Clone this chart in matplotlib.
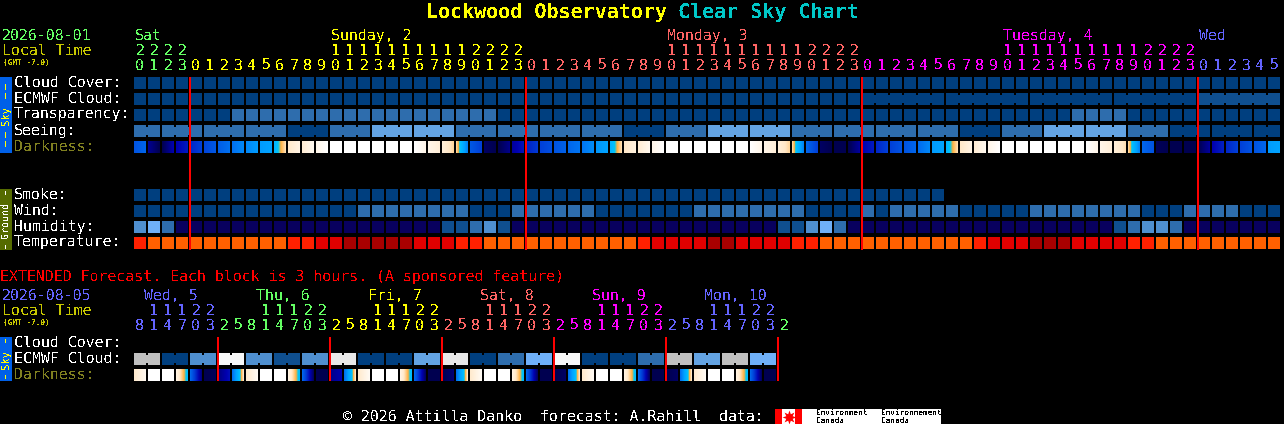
import matplotlib
matplotlib.use("Agg")
import matplotlib.pyplot as plt
import numpy as np
from matplotlib.colors import LinearSegmentedColormap

plt.rcParams['font.family'] = ['DejaVu Sans Mono']
plt.rcParams['text.antialiased'] = False
plt.rcParams['text.hinting'] = 'no_hinting'

# ---------- data ----------
hours_main = [20, 21, 22, 23,
              0, 1, 2, 3, 4, 5, 6, 7, 8, 9, 10, 11, 12, 13, 14, 15, 16, 17, 18, 19, 20, 21, 22, 23,
              0, 1, 2, 3, 4, 5, 6, 7, 8, 9, 10, 11, 12, 13, 14, 15, 16, 17, 18, 19, 20, 21, 22, 23,
              0, 1, 2, 3, 4, 5, 6, 7, 8, 9, 10, 11, 12, 13, 14, 15, 16, 17, 18, 19, 20, 21, 22, 23,
              0, 1, 2, 3, 4, 5]
day_names_main = ['Sat', 'Sunday, 2', 'Monday, 3', 'Tuesday, 4', 'Wed']
day_label_cols = [0, 14, 38, 62, 76]
day_start_cols = [0, 4, 28, 52, 76]
day_colors_main = ['#64ff64', '#ffff00', '#ff6464', '#ff00ff', '#6464ff']

cloud_cover = [0, 0, 0, 0, 0, 0, 0, 0, 0, 0, 0, 0, 0, 0, 0, 0, 0, 0, 0, 0, 0, 0, 0, 0, 0, 0, 0, 0,
               0, 0, 0, 0, 0, 0, 0, 0, 0, 0, 0, 0, 0, 0, 0, 0, 0, 0, 0, 0, 0, 0, 0, 0, 0, 0, 0, 0,
               0, 0, 0, 0, 0, 0, 0, 0, 0, 0, 0, 0, 0, 0, 0, 0, 0, 0, 0, 0, 0, 0, 0, 0, 0, 0]
ecmwf_cloud = [0, 0, 0, 0, 0, 0, 0, 0, 0, 0, 0, 0, 0, 0, 0, 0, 0, 0, 0, 0, 0, 0, 0, 0, 0, 0, 0, 0,
               0, 0, 0, 0, 0, 0, 0, 0, 0, 0, 0, 0, 0, 0, 0, 0, 0, 0, 0, 0, 0, 0, 0, 0, 0, 0, 0, 0,
               0, 0, 0, 0, 0, 0, 0, 0, 0, 0, 0, 0, 0, 0, 0, 0, 0, 0, 0, 0, 1, 1, 1, 1, 1, 1]
transparency = [0, 0, 0, 0, 0, 0, 0, 2, 2, 2, 2, 2, 2, 2, 2, 2, 2, 2, 2, 2, 2, 2, 2, 2, 2, 2, 0, 0,
                0, 0, 0, 0, 0, 0, 0, 0, 0, 0, 0, 0, 0, 0, 0, 0, 0, 0, 0, 0, 0, 0, 0, 0, 0, 0, 0, 0,
                0, 0, 0, 0, 0, 0, 0, 0, 0, 0, 0, 2, 2, 2, 2, 0, 0, 0, 0, 0, 0, 0, 0, 0, 0, 0]
seeing = [2, 2, 2, 2, 2, 2, 2, 2, 2, 2, 2, 0, 0, 0, 2, 2, 2, 4, 4, 4, 4, 4, 4, 2, 2, 2, 2, 2,
          2, 2, 2, 2, 2, 2, 2, 0, 0, 0, 2, 2, 2, 4, 4, 4, 4, 4, 4, 2, 2, 2, 2, 2, 2, 2, 2, 2,
          2, 2, 2, 0, 0, 0, 2, 2, 2, 4, 4, 4, 4, 4, 4, 2, 2, 2, 0, 0, 0, 0, 0, 0, 0, 0]
darkness_left = [4.6, 6.3, 7.0, 6.0, 5.4, 4.9, 4.4, 4.0, 3.5, 3.1, 2.3, 0.95, 0.8, 0.4, 0, 0, 0, 0, 0, 0, 0, 0.4, 0.7, 1.2,
                 4.5, 6.8, 7.0, 6.2, 5.5, 5.0, 4.6, 4.2, 3.9, 3.2, 2.4, 1.0, 0.8, 0.4, 0, 0, 0, 0, 0, 0, 0, 0.4, 0.7, 1.2,
                 4.2, 6.8, 7.0, 7.0, 6.0, 5.4, 5.0, 4.6, 4.1, 3.1, 2.3, 1.0, 0.8, 0.4, 0, 0, 0, 0, 0, 0, 0, 0.4, 0.7, 1.2,
                 4.2, 6.9, 7.0, 7.0, 7.0, 6.0, 5.4, 5.0, 4.6, 3.1]
darkness_right = [4.2, 7.0, 6.0, 5.6, 5.0, 4.5, 4.0, 3.5, 3.1, 2.9, 1.1, 0.5, 0.3, 0, 0, 0, 0, 0, 0, 0, 0.4, 0.7, 1.2, 3.6,
                  5.0, 7.0, 6.4, 5.7, 5.1, 4.7, 4.3, 3.9, 3.4, 2.9, 1.1, 0.6, 0.3, 0, 0, 0, 0, 0, 0, 0, 0.4, 0.7, 1.2, 3.6,
                  5.0, 7.0, 7.0, 6.2, 5.6, 5.0, 4.6, 4.2, 3.5, 2.9, 1.1, 0.5, 0.3, 0, 0, 0, 0, 0, 0, 0, 0.4, 0.7, 1.1, 3.6,
                  4.6, 7.0, 7.0, 7.0, 6.2, 5.5, 5.0, 4.6, 4.2, 2.9]
smoke = [0, 0, 0, 0, 0, 0, 0, 0, 0, 0, 0, 0, 0, 0, 0, 0, 0, 0, 0, 0, 0, 0, 0, 0, 0, 0, 0, 0, 0,
         0, 0, 0, 0, 0, 0, 0, 0, 0, 0, 0, 0, 0, 0, 0, 0, 0, 0, 0, 0, 0, 0, 0, 0, 0, 0, 0, 0, 0]
wind = [0, 0, 0, 0, 0, 0, 0, 0, 0, 0, 0, 0, 0, 0, 0, 0, 2, 2, 2, 2, 2, 2, 2, 2, 0, 0, 0, 2,
        2, 2, 2, 2, 2, 0, 0, 0, 0, 0, 0, 0, 2, 2, 2, 2, 2, 2, 2, 2, 0, 0, 0, 0, 2, 0, 2, 2,
        2, 2, 2, 0, 0, 0, 0, 0, 2, 2, 2, 2, 2, 2, 2, 2, 0, 0, 0, 2, 2, 2, 2, 0, 0, 0]
humidity = [3, 5, 2, 9, 9, 9, 9, 9, 9, 9, 9, 9, 9, 9, 9, 9, 9, 9, 9, 9, 9, 9, 1, 1, 2, 3, 1, 9,
            9, 9, 9, 9, 9, 9, 9, 9, 9, 9, 9, 9, 9, 9, 9, 9, 9, 9, 1, 1, 3, 5, 2, 9, 9, 9, 9, 9,
            9, 9, 9, 9, 9, 9, 9, 9, 9, 9, 9, 9, 9, 9, 1, 2, 3, 3, 2, 9, 9, 9, 9, 9, 9, 9]
temperature = [1, 0, 0, 0, 0, 0, 0, 0, 0, 0, 0, 1, 1, 2, 2, 3, 3, 3, 3, 3, 2, 2, 2, 1, 1, 0, 0, 0,
               0, 0, 0, 0, 0, 0, 0, 0, 1, 2, 2, 2, 2, 3, 3, 2, 2, 2, 2, 1, 1, 0, 0, 0, 0, 0, 0, 0,
               0, 0, 0, 0, 1, 2, 2, 2, 3, 3, 3, 2, 2, 2, 2, 1, 1, 0, 0, 0, 0, 0, 0, 0, 0, 0]

hours_ext = [8, 11, 14, 17, 20, 23,
             2, 5, 8, 11, 14, 17, 20, 23,
             2, 5, 8, 11, 14, 17, 20, 23,
             2, 5, 8, 11, 14, 17, 20, 23,
             2, 5, 8, 11, 14, 17, 20, 23,
             2, 5, 8, 11, 14, 17, 20, 23,
             2]
day_names_ext = ['Wed, 5', 'Thu, 6', 'Fri, 7', 'Sat, 8', 'Sun, 9', 'Mon, 10']
ext_start_cols = [0, 6, 14, 22, 30, 38, 46]
ext_colors = ['#6464ff', '#64ff64', '#ffff00', '#ff6464', '#ff00ff', '#6464ff', '#64ff64']
ecmwf_ext = [6, 6, 0, 0, 3, 3, 8, 8, 3, 3, 1, 1, 3, 3, 7, 7, 0, 0, 0, 0, 4, 4, 7,
             7, 0, 0, 2, 2, 5, 5, 8, 8, 0, 0, 0, 0, 2, 2, 6, 6, 4, 4, 6, 6, 5, 5]
darkness_ext_left = [0.9, 0, 0, 0.5, 4.2, 7.0, 6.5, 4.0,
                     0.9, 0, 0, 0.5, 4.2, 7.0, 6.4, 4.0,
                     0.9, 0, 0, 0.5, 4.2, 7.0, 7.0, 4.0,
                     0.9, 0, 0, 0.5, 4.2, 7.0, 7.0, 4.0,
                     0.9, 0, 0, 0.5, 4.2, 7.0, 7.0, 4.0,
                     0.9, 0, 0, 0.5, 4.2, 7.0]
darkness_ext_right = [0.3, 0, 0, 2.1, 6.5, 6.9, 5.8, 1.0,
                      0.2, 0, 0, 2.1, 6.8, 7.0, 6.0, 1.0,
                      0.2, 0, 0, 2.1, 6.8, 7.0, 6.6, 1.0,
                      0.2, 0, 0, 2.1, 6.8, 7.0, 6.8, 1.0,
                      0.2, 0, 0, 2.1, 6.8, 7.0, 6.8, 1.0,
                      0.2, 0, 0, 2.1, 6.8, 7.0]

# ---------- styles ----------
blue_levels = ['#003F7F', '#0F4F8F', '#2E6DAD', '#4F8FCF', '#63A3E3', '#6FB0F8',
               '#C0C0C0', '#E8E8E8', '#F8F8F8', '#08005E']
temp_levels = ['#FF6000', '#FF2000', '#E00000', '#A80000']
dark_cmap = LinearSegmentedColormap.from_list('darkness', [
    (0 / 7, '#FFFFFF'), (1.0 / 7, '#FFE8C8'), (1.6 / 7, '#FFB040'), (1.9 / 7, '#00C8F0'),
    (2.0 / 7, '#00C0FF'), (3.0 / 7, '#00A0FF'), (4.0 / 7, '#0070F0'), (5.0 / 7, '#0040D8'),
    (6.0 / 7, '#0000B0'), (7.0 / 7, '#000050')], N=512)

X0, STEP, SIZE = 134, 14, 12
MONO = 'DejaVu Sans Mono'
FS = 10.74

fig = plt.figure(figsize=(12.84, 4.24), dpi=100, facecolor='black')
ax = fig.add_axes([0, 0, 1, 1])
ax.set_facecolor('black')
ax.axis('off')


def col_x(i):
    return X0 + STEP * i


def blocks(values, top, palette, link=None):
    xs = [col_x(i) for i in range(len(values))]
    ax.bar(xs, [SIZE] * len(xs), width=SIZE, bottom=top, align='edge',
           color=[palette[v] for v in values], linewidth=0, antialiased=False, zorder=2)
    if link:
        for i in range(len(values) - 1):
            if link(i):
                ax.bar(col_x(i) + SIZE, 8, width=STEP - SIZE, bottom=top + 2, align='edge',
                       color=palette[values[i]], linewidth=0, antialiased=False, zorder=2)


def darkness(left, right, top):
    for i, (a, b) in enumerate(zip(left, right)):
        ramp = np.linspace(a, b, SIZE)[None, :]
        ax.imshow(ramp, cmap=dark_cmap, vmin=0, vmax=7, aspect='auto', interpolation='nearest',
                  extent=(col_x(i), col_x(i) + SIZE, top + SIZE, top), zorder=2)


def label(x, y, s, color='white', fs=FS, **kw):
    ax.text(x, y + 0.8, s, color=color, fontsize=fs, family=MONO, ha=kw.pop('ha', 'left'),
            va=kw.pop('va', 'center'), **kw)


# ---------- title ----------
ax.text(426, 12, 'Lockwood Observatory', color='#FFFF00', fontsize=14.4, family=MONO,
        weight='bold', ha='left', va='center')
ax.text(678, 12, 'Clear Sky Chart', color='#00C8C8', fontsize=14.4, family=MONO,
        weight='bold', ha='left', va='center')

# ---------- main header ----------
label(2, 35, '2026-08-01', '#64ff64')
label(2, 50, 'Local Time', '#C8C800')
label(3, 62, '(GMT -7.0)', '#C8C800', fs=5.6, weight='bold')
for name, c, col in zip(day_names_main, day_colors_main, day_label_cols):
    label(col_x(col) + 1, 35, name, c)
for i, h in enumerate(hours_main):
    d = np.searchsorted(day_start_cols, i, side='right') - 1
    c = day_colors_main[d]
    cx = col_x(i) + SIZE / 2
    label(cx, 65, str(h % 10), c, ha='center')
    if h >= 10:
        label(cx, 50, str(h // 10), c, ha='center')

# ---------- main rows ----------
rows_y = [77, 93, 109, 125, 141, 189, 205, 221, 237]
names = ['Cloud Cover:', 'ECMWF Cloud:', 'Transparency:', 'Seeing:', 'Darkness:',
         'Smoke:', 'Wind:', 'Humidity:', 'Temperature:']
for y, n in zip(rows_y, names):
    label(14, y + 4.5, n, '#808020' if n == 'Darkness:' else 'white')

blocks(cloud_cover, rows_y[0], blue_levels)
blocks(ecmwf_cloud, rows_y[1], blue_levels, link=lambda i: i >= 52 and (i - 51) % 6 != 0)
blocks(transparency, rows_y[2], blue_levels)
blocks(seeing, rows_y[3], blue_levels, link=lambda i: (i - 1) % 3 != 0)
darkness(darkness_left, darkness_right, rows_y[4])
blocks(smoke, rows_y[5], blue_levels)
blocks(wind, rows_y[6], blue_levels)
blocks(humidity, rows_y[7], blue_levels)
blocks(temperature, rows_y[8], temp_levels)

for col in day_start_cols[1:]:
    ax.bar(col_x(col) - 1, 173, width=2, bottom=77, align='edge', color='#FF0000',
           linewidth=0, antialiased=False, zorder=4)


def sidebar(top, bottom, color):
    ax.bar(0, bottom - top, width=12, bottom=top, align='edge', color=color, linewidth=0,
           antialiased=False, zorder=2)


def side_text(y, s, color, fs=7.6):
    ax.text(6, y, s, color=color, fontsize=fs, family=MONO, rotation=90, ha='center',
            va='center', zorder=3)


def side_dash(y0, length, color):
    ax.bar(5, length, width=1, bottom=y0, align='edge', color=color, linewidth=0,
           antialiased=False, zorder=3)


SKY = '#0060E8'
sidebar(77, 153, SKY)
side_text(115.5, 'Sky', '#FFFF00')
for y in (84, 93, 132, 141):
    side_dash(y, 6, '#FFFF00')
sidebar(189, 250, '#556B00')
side_text(219.5, 'Ground', 'white', fs=7.2)
for y in (191, 245):
    side_dash(y, 4, 'white')

# ---------- extended ----------
label(0, 276, 'EXTENDED Forecast. Each block is 3 hours. (A sponsored feature)', '#FF0000')
label(2, 295, '2026-08-05', '#6464ff')
label(2, 310, 'Local Time', '#C8C800')
label(3, 322, '(GMT -7.0)', '#C8C800', fs=5.6, weight='bold')
for k, (name, c) in enumerate(zip(day_names_ext, ext_colors)):
    label(144 + 8 * STEP * k, 295, name, c)
for i, h in enumerate(hours_ext):
    d = np.searchsorted(ext_start_cols, i, side='right') - 1
    c = ext_colors[d]
    cx = col_x(i) + SIZE / 2
    label(cx, 325, str(h % 10), c, ha='center')
    if h >= 10:
        label(cx, 310, str(h // 10), c, ha='center')

ext_y = [337, 353, 369]
for y, n in zip(ext_y, ['Cloud Cover:', 'ECMWF Cloud:', 'Darkness:']):
    label(14, y + 4.5, n, '#808020' if n == 'Darkness:' else 'white')
blocks(ecmwf_ext, ext_y[1], blue_levels, link=lambda i: i % 2 == 0)
darkness(darkness_ext_left, darkness_ext_right, ext_y[2])
for col in ext_start_cols[1:]:
    ax.bar(col_x(col) - 1, 44, width=2, bottom=337, align='edge', color='#FF0000',
           linewidth=0, antialiased=False, zorder=4)
sidebar(337, 381, SKY)
side_text(360, 'Sky', '#FFFF00')
for y in (339, 375):
    side_dash(y, 4, '#FFFF00')

# ---------- footer ----------
label(343, 416, '\u00a9 2026 Attilla Danko  forecast: A.Rahill  data:', 'white')
ax.bar(775, 15, width=166, bottom=409, align='edge', color='white', linewidth=0,
       antialiased=False, zorder=2)
for fx in (775, 795):
    ax.bar(fx, 15, width=7, bottom=409, align='edge', color='#FF0000', linewidth=0,
           antialiased=False, zorder=3)
ax.plot([788.5], [416.5], marker=(8, 1, 0), color='#FF0000', markersize=10, markeredgewidth=0,
        zorder=3)
for lx, word in ((816, 'Environment'), (881, 'Environnement')):
    ax.text(lx, 413, word, color='black', fontsize=5.6, family=MONO, ha='left', va='center', zorder=4)
    ax.text(lx, 420.5, 'Canada', color='black', fontsize=5.6, family=MONO, ha='left', va='center', zorder=4)

ax.set_xlim(0, 1284)
ax.set_ylim(424, 0)
fig.savefig('out.png', dpi=100, facecolor='black')
